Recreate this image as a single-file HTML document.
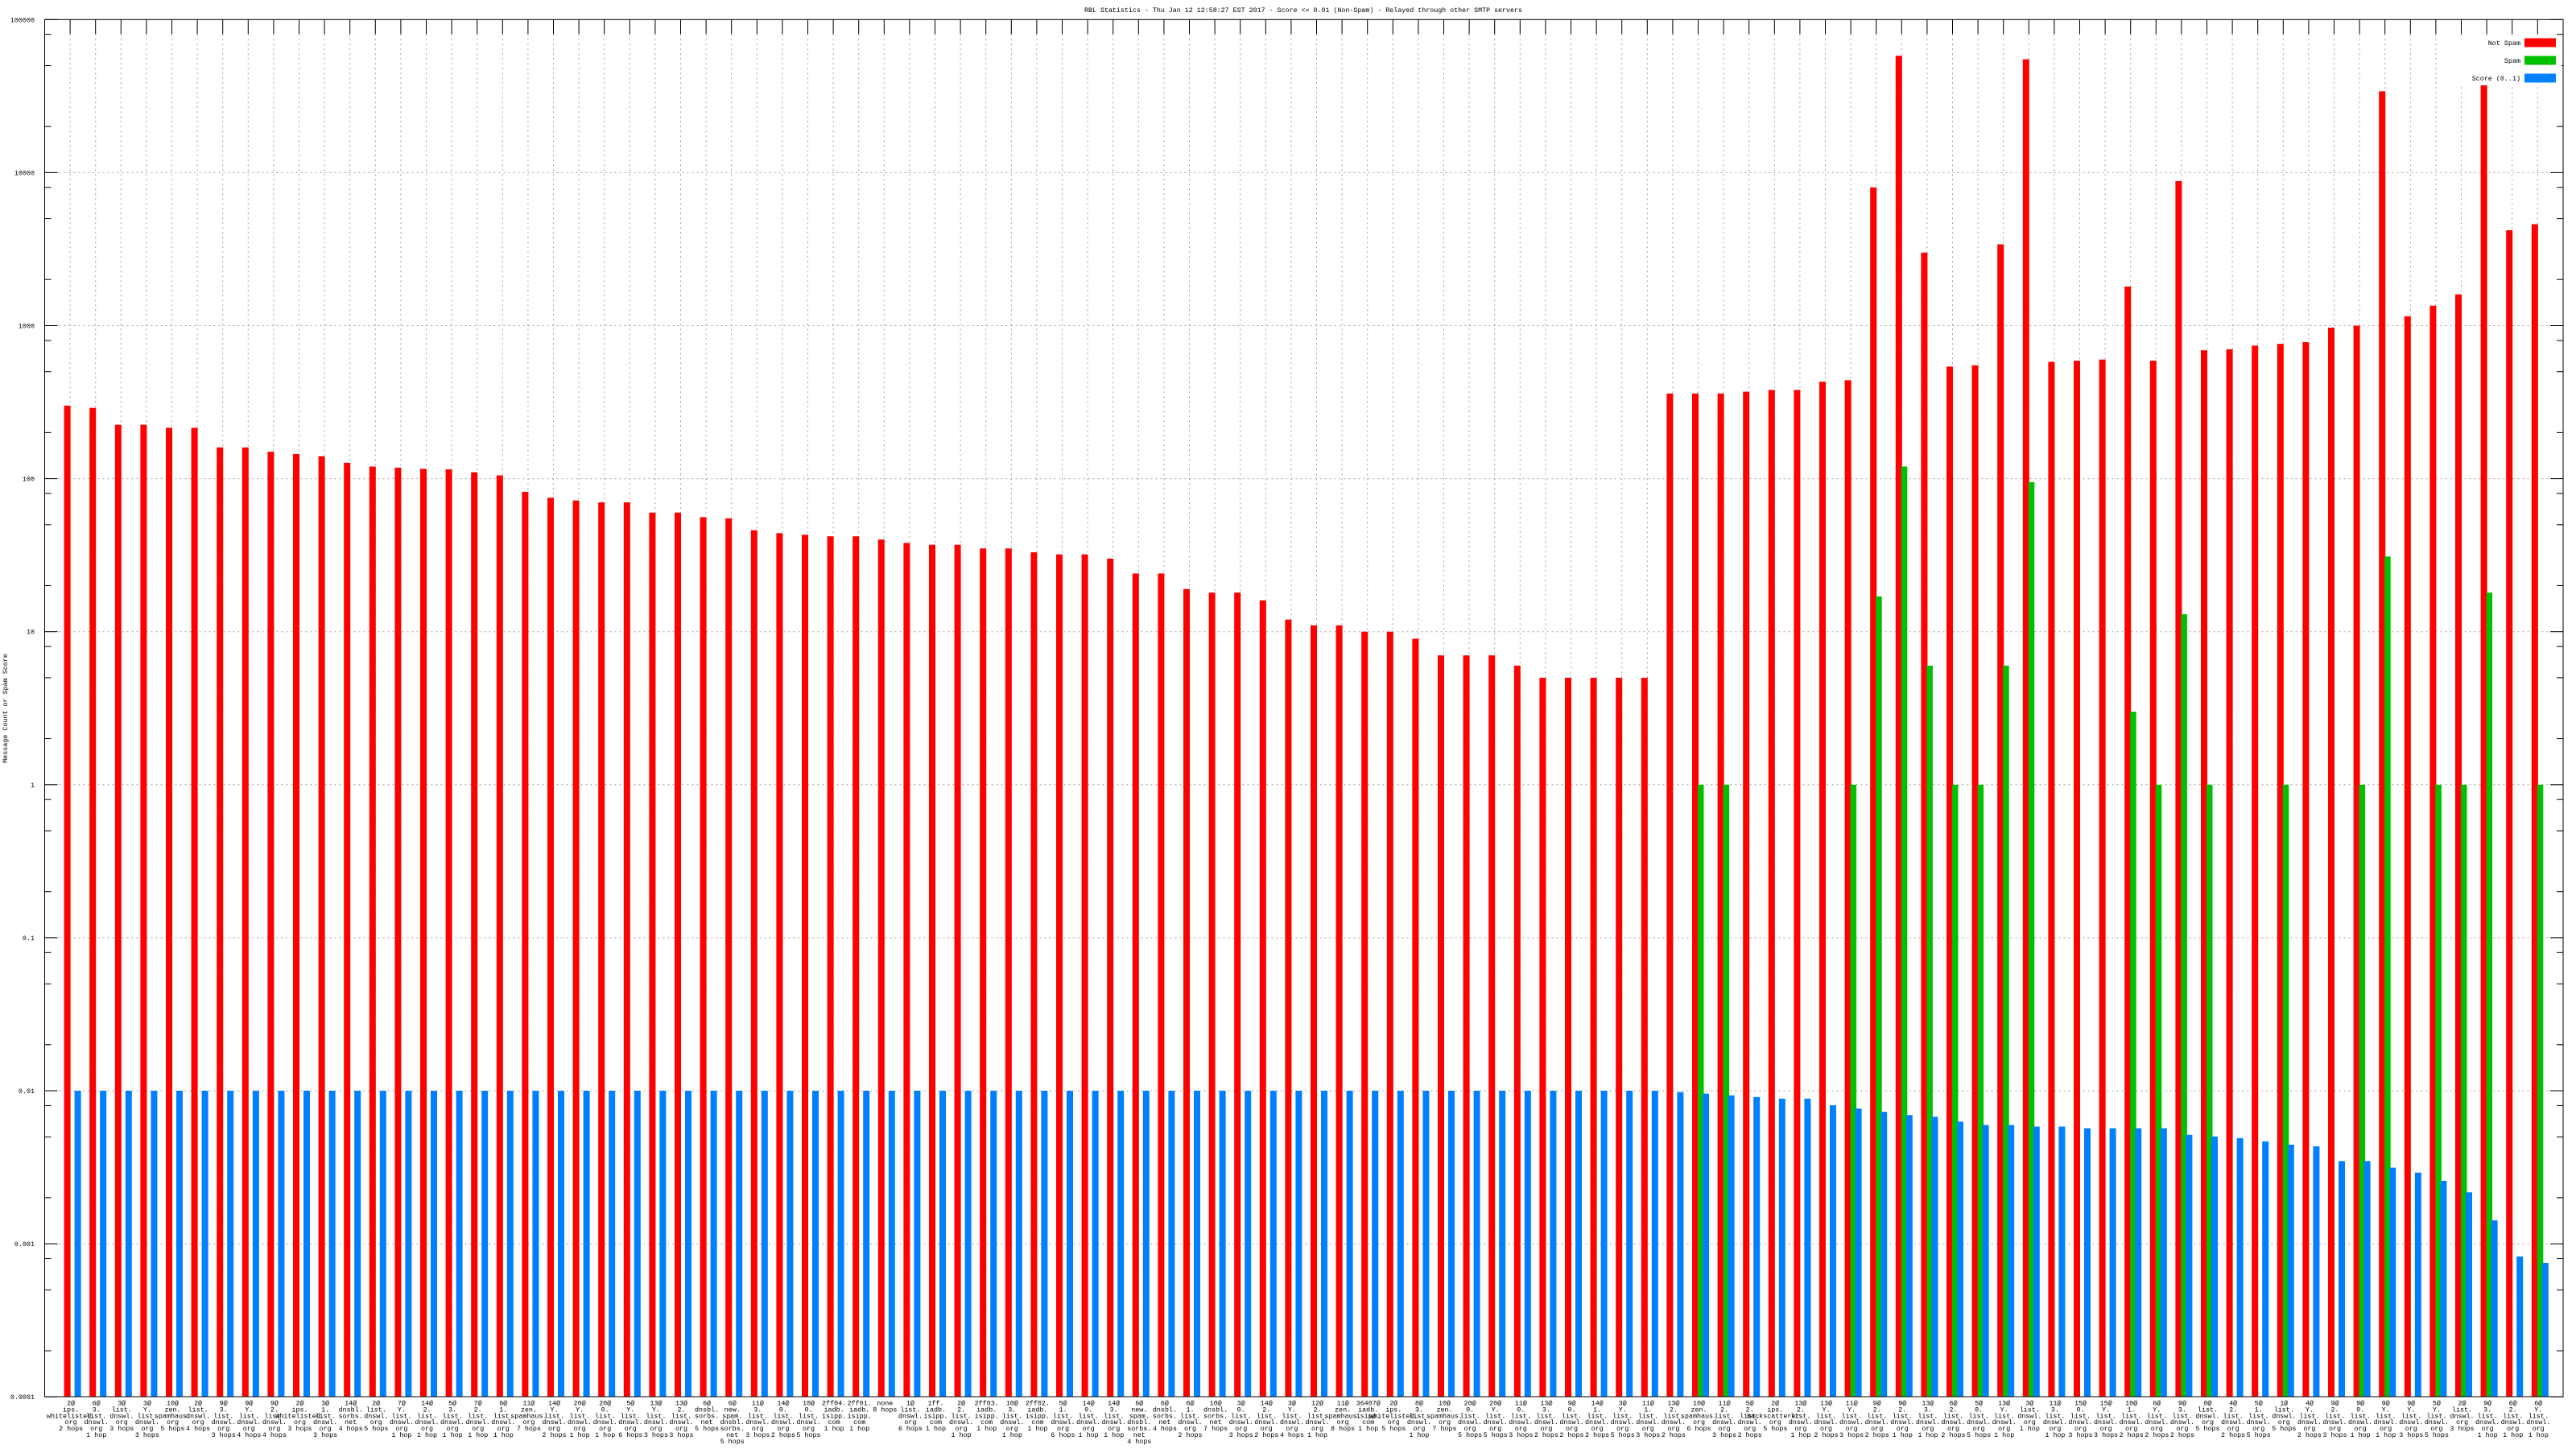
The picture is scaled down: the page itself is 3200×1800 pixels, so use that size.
<!DOCTYPE html>
<html><head><meta charset="utf-8"><style>
html,body{margin:0;padding:0;background:#fff;width:3200px;height:1800px;overflow:hidden}
svg text{font-family:"Liberation Mono","DejaVu Sans Mono",monospace;fill:#000}
</style></head><body>
<svg id="s" xmlns="http://www.w3.org/2000/svg" width="3200" height="1800" viewBox="0 0 3200 1800"></svg>
<script>
var L=55.5,R=3184,T=24.3,B=1735,D=190.1,SP=31.6;
function Y(v){return T+(5-Math.log10(v))*D;}
var red=[300,290,225,225,215,215,160,160,150,145,140,127,120,118,116,115,110,105,82,75,72,70,70,60,60,56,55,46,44,43,42,42,40,38,37,37,35,35,33,32,32,30,24,24,19,18,18,16,12,11,11,10,10,9,7,7,7,6,5,5,5,5,5,360,360,360,370,380,380,430,440,8000,58000,3000,540,550,3400,55000,580,590,600,1800,590,8800,690,700,740,760,780,970,1000,34000,1150,1350,1600,47000,4200,4600];
var green={64:1,65:1,70:1,71:17,72:120,73:6,74:1,75:1,76:6,77:95,81:3,82:1,83:13,84:1,87:1,90:1,91:31,93:1,94:1,95:18,97:1};
var bov={63:665,64:666,65:667,66:668,67:669,68:669,69:673,70:675,71:677,72:679,73:680,74:683,75:685,76:685,77:686,78:686,79:687,80:687,81:687,82:687,83:691,84:692,85:693,86:695,87:697,88:698,89:707,90:707,91:711,92:714,93:719,94:726,95:743,96:765,97:769};
var labels=["2@|ips.|whitelisted.|org|2 hops","6@|3.|list.|dnswl.|org|1 hop","3@|list.|dnswl.|org|3 hops","3@|Y.|list.|dnswl.|org|3 hops","10@|zen.|spamhaus.|org|5 hops","2@|list.|dnswl.|org|4 hops","9@|3.|list.|dnswl.|org|3 hops","9@|Y.|list.|dnswl.|org|4 hops","9@|2.|list.|dnswl.|org|4 hops","2@|ips.|whitelisted.|org|3 hops","3@|1.|list.|dnswl.|org|3 hops","14@|dnsbl.|sorbs.|net|4 hops","2@|list.|dnswl.|org|5 hops","7@|Y.|list.|dnswl.|org|1 hop","14@|2.|list.|dnswl.|org|1 hop","5@|3.|list.|dnswl.|org|1 hop","7@|2.|list.|dnswl.|org|1 hop","6@|1.|list.|dnswl.|org|1 hop","11@|zen.|spamhaus.|org|7 hops","14@|Y.|list.|dnswl.|org|2 hops","20@|Y.|list.|dnswl.|org|1 hop","20@|0.|list.|dnswl.|org|1 hop","5@|Y.|list.|dnswl.|org|6 hops","13@|Y.|list.|dnswl.|org|3 hops","13@|2.|list.|dnswl.|org|3 hops","6@|dnsbl.|sorbs.|net|5 hops","6@|new.|spam.|dnsbl.|sorbs.|net|5 hops","11@|3.|list.|dnswl.|org|3 hops","14@|0.|list.|dnswl.|org|2 hops","10@|0.|list.|dnswl.|org|5 hops","2ff04.|iadb.|isipp.|com|1 hop","2ff01.|iadb.|isipp.|com|1 hop","none|8 hops","1@|list.|dnswl.|org|6 hops","1ff.|iadb.|isipp.|com|1 hop","2@|2.|list.|dnswl.|org|1 hop","2ff03.|iadb.|isipp.|com|1 hop","10@|3.|list.|dnswl.|org|1 hop","2ff02.|iadb.|isipp.|com|1 hop","5@|1.|list.|dnswl.|org|6 hops","14@|0.|list.|dnswl.|org|1 hop","14@|3.|list.|dnswl.|org|1 hop","6@|new.|spam.|dnsbl.|sorbs.|net|4 hops","6@|dnsbl.|sorbs.|net|4 hops","6@|1.|list.|dnswl.|org|2 hops","10@|dnsbl.|sorbs.|net|7 hops","3@|0.|list.|dnswl.|org|3 hops","14@|2.|list.|dnswl.|org|2 hops","3@|Y.|list.|dnswl.|org|4 hops","12@|2.|list.|dnswl.|org|1 hop","11@|zen.|spamhaus.|org|8 hops","36407@|iadb.|isipp.|com|1 hop","2@|ips.|whitelisted.|org|5 hops","8@|3.|list.|dnswl.|org|1 hop","10@|zen.|spamhaus.|org|7 hops","20@|0.|list.|dnswl.|org|5 hops","20@|Y.|list.|dnswl.|org|5 hops","11@|0.|list.|dnswl.|org|3 hops","13@|3.|list.|dnswl.|org|2 hops","9@|0.|list.|dnswl.|org|2 hops","14@|1.|list.|dnswl.|org|2 hops","3@|Y.|list.|dnswl.|org|5 hops","11@|1.|list.|dnswl.|org|3 hops","13@|2.|list.|dnswl.|org|2 hops","10@|zen.|spamhaus.|org|6 hops","11@|2.|list.|dnswl.|org|3 hops","5@|2.|list.|dnswl.|org|2 hops","2@|ips.|backscatterer.|org|5 hops","13@|2.|list.|dnswl.|org|1 hop","13@|Y.|list.|dnswl.|org|2 hops","11@|Y.|list.|dnswl.|org|3 hops","9@|2.|list.|dnswl.|org|2 hops","9@|2.|list.|dnswl.|org|1 hop","13@|3.|list.|dnswl.|org|1 hop","6@|2.|list.|dnswl.|org|2 hops","5@|0.|list.|dnswl.|org|5 hops","13@|Y.|list.|dnswl.|org|1 hop","3@|list.|dnswl.|org|1 hop","11@|3.|list.|dnswl.|org|1 hop","15@|0.|list.|dnswl.|org|3 hops","15@|Y.|list.|dnswl.|org|3 hops","10@|1.|list.|dnswl.|org|2 hops","6@|Y.|list.|dnswl.|org|2 hops","9@|3.|list.|dnswl.|org|2 hops","0@|list.|dnswl.|org|5 hops","4@|2.|list.|dnswl.|org|2 hops","5@|1.|list.|dnswl.|org|5 hops","1@|list.|dnswl.|org|5 hops","4@|Y.|list.|dnswl.|org|2 hops","9@|2.|list.|dnswl.|org|3 hops","9@|0.|list.|dnswl.|org|1 hop","9@|Y.|list.|dnswl.|org|1 hop","9@|Y.|list.|dnswl.|org|3 hops","5@|Y.|list.|dnswl.|org|5 hops","2@|list.|dnswl.|org|3 hops","9@|3.|list.|dnswl.|org|1 hop","6@|2.|list.|dnswl.|org|1 hop","6@|Y.|list.|dnswl.|org|1 hop"];
var h=[];
// grid
for(var d=0;d<=9;d++){var y=T+d*D;if(d>0&&d<9)h.push('<line x1="'+L+'" x2="'+R+'" y1="'+y+'" y2="'+y+'" stroke="#a0a0a0" stroke-width="1" stroke-dasharray="2,4"/>');}
for(var i=0;i<98;i++){var c=L+SP*(i+1);h.push('<line x1="'+c+'" x2="'+c+'" y1="'+T+'" y2="'+B+'" stroke="#a0a0a0" stroke-width="1" stroke-dasharray="2,4"/>');}
// bars
for(var i=0;i<98;i++){var c=L+SP*(i+1);
 var yr=Y(red[i]);h.push('<rect x="'+(c-7.5)+'" y="'+yr+'" width="8" height="'+(B-yr)+'" fill="#ff0000"/>');
 if(green[i]!==undefined){var yg=Y(green[i]);h.push('<rect x="'+(c-0.5)+'" y="'+yg+'" width="7.5" height="'+(B-yg)+'" fill="#00c000"/>');}
 var yb=bov[i]!==undefined?T+(5-(478-bov[i])/93.1)*D:Y(0.01);
 h.push('<rect x="'+(c+5.5)+'" y="'+yb+'" width="8" height="'+(B-yb)+'" fill="#0080ff"/>');
 var ls=labels[i].split('|');
 for(var k=0;k<ls.length;k++)h.push('<text x="'+(c+1)+'" y="'+(1745.5+k*7.9)+'" font-size="8.4" text-anchor="middle">'+ls[k]+'</text>');
}
// top x ticks
for(var i=0;i<98;i++){var c=L+SP*(i+1);h.push('<line x1="'+c+'" x2="'+c+'" y1="'+T+'" y2="'+(T+18)+'" stroke="#000" stroke-width="1"/>');}
// y ticks
var yl=["100000","10000","1000","100","10","1","0.1","0.01","0.001","0.0001"];
for(var d=0;d<=9;d++){var y=T+d*D;
 h.push('<line x1="'+L+'" x2="'+(L+16)+'" y1="'+y+'" y2="'+y+'" stroke="#000"/>');
 h.push('<line x1="'+R+'" x2="'+(R-16)+'" y1="'+y+'" y2="'+y+'" stroke="#000"/>');
 h.push('<text x="43" y="'+(y+3)+'" font-size="8.4" text-anchor="end">'+yl[d]+'</text>');
 if(d<9){[2,5,8].forEach(function(m){var yy=y+D-Math.log10(m)*D;
  h.push('<line x1="'+L+'" x2="'+(L+8)+'" y1="'+yy+'" y2="'+yy+'" stroke="#000"/>');
  h.push('<line x1="'+R+'" x2="'+(R-8)+'" y1="'+yy+'" y2="'+yy+'" stroke="#000"/>');});}
}
// legend
h.push('<rect x="3030" y="44" width="152" height="62" fill="#fff"/>');
var lg=[["Not Spam","#ff0000",53],["Spam","#00c000",75],["Score (0..1)","#0080ff",97]];
lg.forEach(function(e){h.push('<text x="3131" y="'+(e[2]+3)+'" font-size="8.4" text-anchor="end">'+e[0]+'</text>');h.push('<rect x="3136" y="'+(e[2]-5.5)+'" width="39" height="11" fill="'+e[1]+'"/>');});
// border
h.push('<rect x="'+L+'" y="'+T+'" width="'+(R-L)+'" height="'+(B-T)+'" fill="none" stroke="#000" stroke-width="1"/>');
h.push('<text x="1619" y="15" font-size="8.6" text-anchor="middle" textLength="544" lengthAdjust="spacingAndGlyphs">RBL Statistics - Thu Jan 12 12:58:27 EST 2017 - Score &lt;= 0.01 (Non-Spam) - Relayed through other SMTP servers</text>');
h.push('<text x="0" y="0" font-size="8.4" text-anchor="middle" transform="translate(9,880) rotate(-90)">Message Count or Spam Score</text>');
document.getElementById('s').innerHTML=h.join('');
</script>
</body></html>
